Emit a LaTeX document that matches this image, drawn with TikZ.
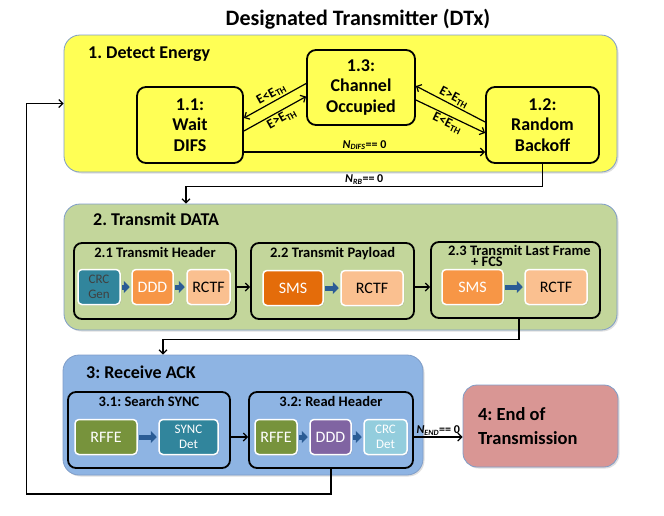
\documentclass[tikz,border=0pt]{standalone}
\usepackage{fontspec}
\setmainfont{Carlito}
\usetikzlibrary{arrows.meta,shadows}
\frenchspacing

\definecolor{dtxyellow}{HTML}{FFFF55}
\definecolor{dtxgreen}{HTML}{C3D69B}
\definecolor{dtxblue}{HTML}{8EB4E3}
\definecolor{dtxred}{HTML}{D99694}
\definecolor{dtxframe}{HTML}{7F9DC8}
\definecolor{blkteal}{HTML}{31859C}
\definecolor{blkorange}{HTML}{F79646}
\definecolor{blkdark}{HTML}{E46C0A}
\definecolor{blkpeach}{HTML}{FAC090}
\definecolor{blkolive}{HTML}{77933C}
\definecolor{blkpurple}{HTML}{8064A2}
\definecolor{blkaqua}{HTML}{93CDDD}
\definecolor{fatblue}{HTML}{2B5C95}

\tikzset{
  phase/.style={draw=dtxframe, line width=0.8pt, rounded corners=16pt, inner sep=0pt,
    drop shadow={shadow xshift=1.5pt, shadow yshift=-1.5pt, opacity=0.25}},
  phaselabel/.style={anchor=west, inner sep=0pt, font=\bfseries\fontsize{18}{20}\selectfont},
  state/.style={draw, line width=1.8pt, rounded corners=9pt, fill=dtxyellow, align=center,
    inner sep=0pt, font=\bfseries\fontsize{18}{20.5}\selectfont},
  stage/.style={draw, line width=1.8pt, rounded corners=8pt, inner sep=0pt, minimum height=76pt},
  stagetitle/.style={anchor=north, inner sep=0pt, font=\bfseries\fontsize{14.5}{11}\selectfont},
  blk/.style={draw=white, line width=1.5pt, rounded corners=4pt, inner sep=0pt, minimum height=35pt,
    align=center, font=\fontsize{16}{16}\selectfont,
    drop shadow={shadow xshift=1pt, shadow yshift=-1pt, opacity=0.3}},
  blksm/.style={blk, font=\fontsize{13}{15}\selectfont},
  fat/.style={draw=fatblue, line width=5pt, -{Triangle[length=6pt,width=12pt]},
    shorten <=1.5pt, shorten >=1.5pt},
  flow/.style={-{Straight Barb[length=4pt,width=8pt]}, line width=1.2pt},
  cond/.style={inner sep=1.5pt, font=\bfseries\fontsize{12}{12}\selectfont},
  thr/.style={inner sep=0.5pt, font=\bfseries\fontsize{13.5}{13}\selectfont},
}

\begin{document}
\begin{tikzpicture}[x=1pt,y=-1pt]
	\useasboundingbox (0,0) rectangle (664,515);
	\node[font=\bfseries\fontsize{22}{24}\selectfont] (title) at (358,19) {Designated Transmitter (DTx)};

	% phase 1
	\node[phase, fill=dtxyellow, minimum width=553pt, minimum height=137pt] (P1) at (340.5,103.5) {};
	\node[phaselabel] (p1lbl) at (88,54) {1. Detect Energy};
	\node[state, minimum width=106pt, minimum height=76pt] (S11) at (190,125) {1.1:\\Wait\\DIFS};
	\node[state, minimum width=108pt, minimum height=75pt] (S13) at (361,87.5) {1.3:\\Channel\\Occupied};
	\node[state, minimum width=113pt, minimum height=76pt] (S12) at (542.5,125) {1.2:\\Random\\Backoff};

	\draw[flow] ([yshift=4pt]S13.west) -- ([yshift=7pt]S11.east)
		node[thr, midway, sloped, above=1pt] (c1) {E<E\textsubscript{TH}};
	\draw[flow] ([yshift=-6pt]S11.east) -- ([yshift=-9pt]S13.west)
		node[thr, pos=0.55, sloped, below=1pt] (c2) {E>E\textsubscript{TH}};
	\draw[flow] ([yshift=3pt]S12.west) -- ([yshift=1.5pt]S13.east)
		node[thr, midway, sloped, above=1pt] (c3) {E>E\textsubscript{TH}};
	\draw[flow] ([yshift=-12.5pt]S13.east) -- ([yshift=-8pt]S12.west)
		node[thr, midway, sloped, below=1pt] (c4) {E<E\textsubscript{TH}};
	\draw[flow] ([yshift=-27pt]S11.east) -- ([yshift=-27pt]S12.west)
		node[cond, midway, above] (c5) {\textit{N}\textsubscript{\textit{DIFS}}== 0};

	% phase 2
	\node[phase, fill=dtxgreen, minimum width=553pt, minimum height=126pt] (P2) at (340.5,267) {};
	\node[phaselabel] (p2lbl) at (93,219) {2. Transmit DATA};
	\node[stage, minimum width=162pt] (T21) at (155,281) {};
	\node[stage, minimum width=163pt] (T22) at (332.5,281) {};
	\node[stage, minimum width=169pt] (T23) at (515.5,280) {};
	\node[stagetitle] (t21) at ([yshift=-5pt]T21.north) {2.1 Transmit Header};
	\node[stagetitle] (t22) at ([yshift=-5pt]T22.north) {2.2 Transmit Payload};
	\node[stagetitle, anchor=north west, align=left] (t23) at ([xshift=-67.5pt, yshift=-4pt]T23.north)
		{2.3 Transmit Last Frame\\\hspace*{23pt}+ FCS};

	% phase 3
	\node[phase, fill=dtxblue, minimum width=360pt, minimum height=120pt] (P3) at (243,415) {};
	\node[phaselabel] (p3lbl) at (86,372) {3: Receive ACK};
	\node[stage, minimum width=162pt] (R31) at (149,430) {};
	\node[stage, minimum width=164pt] (R32) at (331,430) {};
	\node[stagetitle] (r31) at ([yshift=-5pt]R31.north) {3.1: Search SYNC};
	\node[stagetitle] (r32) at ([yshift=-5pt]R32.north) {3.2: Read Header};

	% phase 4
	\node[phase, fill=dtxred, rounded corners=14pt, minimum width=155pt, minimum height=82pt,
		text width=125pt, align=flush left, font=\bfseries\fontsize{18.5}{24}\selectfont] (End) at (540.5,426)
		{4: End of\\Transmission};

	% processing blocks
	\foreach \nm/\cx/\cy/\w/\st/\col/\tc/\txt in {
		crcgen/99/287/42/blksm/blkteal/black!75/{CRC\\Gen},
		ddd1/152.5/287/41/blk/blkorange/white/DDD,
		rctf1/208.5/287/43/blk/blkpeach/black/RCTF,
		sms2/293/288/60/blk/blkdark/white/SMS,
		rctf2/372/288/62/blk/blkpeach/black/RCTF,
		sms3/472.5/287/61/blk/blkorange/white/SMS,
		rctf3/556/287/62/blk/blkpeach/black/RCTF,
		rffe1/106/437/62/blk/blkolive/white/RFFE,
		sync/188.5/437/59/blksm/blkteal/white/{SYNC\\Det},
		rffe2/276/437/42/blk/blkolive/white/RFFE,
		ddd2/330.5/437/41/blk/blkpurple/white/DDD,
		crcdet/385.5/437/43/blksm/blkaqua/white/{CRC\\Det}%
	}
	{
		\node[\st, fill=\col, text=\tc, minimum width=\w pt] (\nm) at (\cx,\cy) {\txt};
	}
	\foreach \a/\b in {crcgen/ddd1, ddd1/rctf1, sms2/rctf2, sms3/rctf3, rffe1/sync, rffe2/ddd2, ddd2/crcdet}
		\draw[fat] (\a) -- (\b);

	% transitions
	\draw[flow] (S12.south) |- ([xshift=-154.5pt, yshift=17pt]P2.north)
		node[cond, pos=0.75, above] (c6) {\textit{N}\textsubscript{\textit{RB}}== 0}
		-- ([xshift=-154.5pt]P2.north);
	\draw[flow] (T21.east |- rctf1) -- (T22.west |- rctf1);
	\draw[flow] (T22.east |- rctf1) -- (T23.west |- rctf1);
	\draw[flow] ([xshift=3.5pt]T23.south) |- ([xshift=-80pt, yshift=15pt]P3.north) -- ([xshift=-80pt]P3.north);
	\draw[flow] (R31.east |- sync) -- (R32.west |- sync);
	\draw[flow] (R32.east |- crcdet) -- (End.west |- crcdet)
		node[cond, midway, above, inner sep=1pt] (c7) {\textit{N}\textsubscript{\textit{END}}== 0};
	\draw[flow] (R32.south) -- ++(0,25) -| ([xshift=-37pt]P1.west) -- (P1.west);
\end{tikzpicture}
\end{document}
